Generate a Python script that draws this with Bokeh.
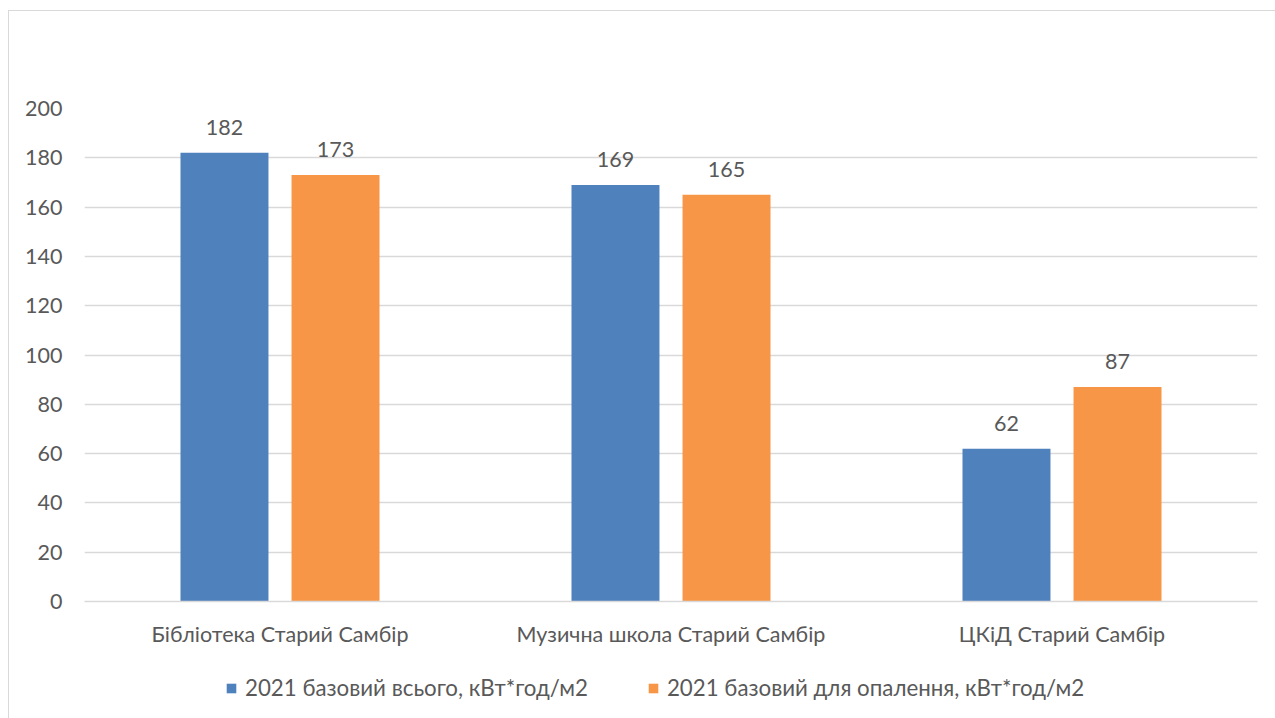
from bokeh.plotting import figure
from bokeh.layouts import column
from bokeh.models import ColumnDataSource, FactorRange, Range1d, Legend, LegendItem, LabelSet
from bokeh.core.properties import value
from bokeh.transform import dodge
from bokeh.embed import file_html
from bokeh.resources import INLINE

categories = ["Бібліотека Старий Самбір", "Музична школа Старий Самбір", "ЦКіД Старий Самбір"]
total_vals = [182, 169, 62]
heating_vals = [173, 165, 87]
series_names = ["2021 базовий всього, кВт*год/м2", "2021 базовий для опалення, кВт*год/м2"]
y_ticks = [0, 20, 40, 60, 80, 100, 120, 140, 160, 180, 200]

BLUE = "#4F81BD"
ORANGE = "#F79646"
FONT = "Lato"
TXT = "#595959"
FS = "21.5px"

src = ColumnDataSource(dict(cat=categories, total=total_vals, heat=heating_vals,
                            total_s=[str(v) for v in total_vals],
                            heat_s=[str(v) for v in heating_vals]))

p = figure(width=1266, height=650, x_range=FactorRange(*categories), y_range=Range1d(0, 200),
           output_backend="svg", toolbar_location=None,
           min_border_left=75, min_border_right=18, min_border_top=97, min_border_bottom=60)
p.outline_line_color = None

r1 = p.vbar(x=dodge("cat", -0.142, range=p.x_range), top="total", width=0.225, source=src,
            fill_color=BLUE, line_color=None)
r2 = p.vbar(x=dodge("cat", 0.142, range=p.x_range), top="heat", width=0.225, source=src,
            fill_color=ORANGE, line_color=None)

for col, lab, off in [("total", "total_s", -0.142), ("heat", "heat_s", 0.142)]:
    ls = LabelSet(x=dodge("cat", off, range=p.x_range), y=col, text=lab, source=src,
                  text_align="center", text_baseline="bottom", y_offset=18,
                  text_font=value(FONT), text_font_size=FS, text_color=TXT)
    p.add_layout(ls)

p.xgrid.grid_line_color = None
p.ygrid.grid_line_color = "#D9D9D9"
p.ygrid.grid_line_width = 1.5
p.yaxis.ticker = y_ticks
p.yaxis.axis_line_color = None
p.yaxis.major_tick_line_color = None
p.yaxis.minor_tick_line_color = None
p.yaxis.major_tick_out = 0
p.yaxis.major_tick_in = 0
p.yaxis.major_label_standoff = 22
p.yaxis.major_label_text_font = FONT
p.yaxis.major_label_text_font_size = FS
p.yaxis.major_label_text_color = TXT

p.xaxis.axis_line_color = "#D9D9D9"
p.xaxis.axis_line_width = 1.5
p.xaxis.major_tick_line_color = None
p.xaxis.minor_tick_line_color = None
p.xaxis.major_tick_out = 0
p.xaxis.major_tick_in = 0
p.xaxis.major_label_standoff = 19
p.xaxis.major_label_text_font = FONT
p.xaxis.major_label_text_font_size = FS
p.xaxis.major_label_text_color = TXT

# legend strip below the chart (same data, y-range set so bars fall outside the view)
lp = figure(width=1266, height=57, x_range=p.x_range, y_range=Range1d(1000, 1001),
            output_backend="svg", toolbar_location=None,
            x_axis_location=None, y_axis_location=None,
            min_border_left=0, min_border_right=0, min_border_top=0, min_border_bottom=0)
lp.outline_line_color = None
lp.grid.visible = False
lr1 = lp.vbar(x=dodge("cat", -0.142, range=p.x_range), top="total", width=0.225, source=src,
              fill_color=BLUE, line_color=None)
lr2 = lp.vbar(x=dodge("cat", 0.142, range=p.x_range), top="heat", width=0.225, source=src,
              fill_color=ORANGE, line_color=None)
legend = Legend(items=[LegendItem(label=series_names[0], renderers=[lr1]),
                       LegendItem(label=series_names[1], renderers=[lr2])],
                orientation="horizontal", location=(141, 17),
                glyph_width=12, glyph_height=12, spacing=59, label_standoff=8,
                label_text_font=FONT, label_text_font_size="22.3px", label_text_color=TXT,
                border_line_color=None, background_fill_alpha=0, margin=0, padding=4)
lp.add_layout(legend, "center")

layout = column(p, lp, spacing=0,
                styles={"border": "1px solid #D9D9D9", "margin-left": "8px", "margin-top": "10px"})

open("out.html", "w").write(file_html(layout, INLINE))
